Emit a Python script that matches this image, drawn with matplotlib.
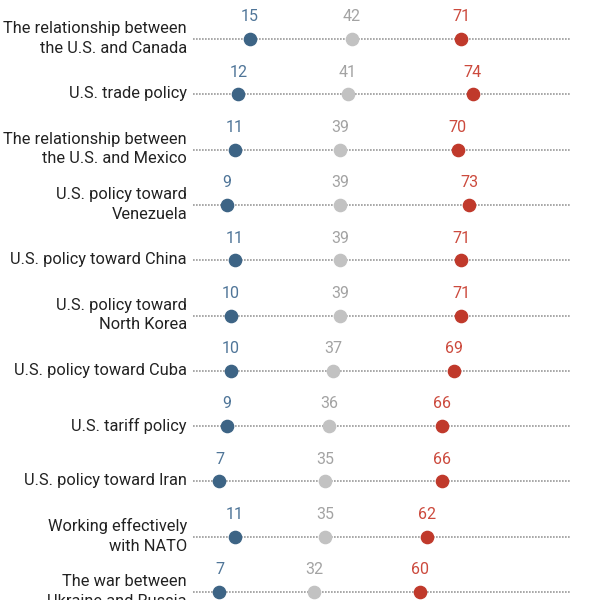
import matplotlib
matplotlib.use("Agg")
import matplotlib.pyplot as plt

plt.rcParams['font.family'] = ['Roboto', 'DejaVu Sans']

labels = [
    "The relationship between\nthe U.S. and Canada",
    "U.S. trade policy",
    "The relationship between\nthe U.S. and Mexico",
    "U.S. policy toward\nVenezuela",
    "U.S. policy toward China",
    "U.S. policy toward\nNorth Korea",
    "U.S. policy toward Cuba",
    "U.S. tariff policy",
    "U.S. policy toward Iran",
    "Working effectively\nwith NATO",
    "The war between\nUkraine and Russia",
]
blue_vals = [15, 12, 11, 9, 11, 10, 10, 9, 7, 11, 7]
gray_vals = [42, 41, 39, 39, 39, 39, 37, 36, 35, 35, 32]
red_vals = [71, 74, 70, 73, 71, 71, 69, 66, 66, 62, 60]

series = [
    (blue_vals, '#3d6485', '#4f7598'),
    (gray_vals, '#c2c2c2', '#a3a3a3'),
    (red_vals, '#c0392b', '#cc4a3d'),
]

fig = plt.figure(figsize=(6, 6), dpi=100)
# x: 0 -> 193px, 100 -> 571px ; rows every ~55.3px starting at 39px
ax = fig.add_axes([193 / 600, 0, (571 - 193) / 600, 1])
ax.set_xlim(0, 100)
ax.set_ylim(561 / 55.3, -39 / 55.3)
ax.axis('off')

rows = range(len(labels))
for i in rows:
    ax.plot([0, 100], [i, i], color='#999999', linestyle=(0, (1, 0.8)),
            linewidth=1.2, zorder=1)
    ax.text(-1.6, i - 0.01, labels[i], ha='right', va='center',
            multialignment='right', fontsize=11.8, color='#222222',
            linespacing=1.4, clip_on=False)

for vals, dot_color, text_color in series:
    ax.plot(vals, list(rows), 'o', color=dot_color, markersize=8.8,
            linestyle='none', zorder=3)
    for i, v in enumerate(vals):
        ax.text(v, i - 0.40, str(v), ha='center', va='center',
                fontsize=11.5, color=text_color)

fig.savefig('out.png', dpi=100)
